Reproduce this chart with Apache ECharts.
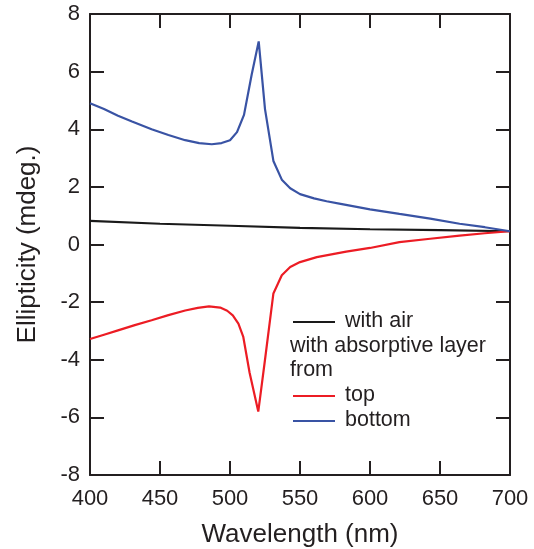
<!DOCTYPE html>
<html><head><meta charset="utf-8">
<script src="https://cdn.jsdelivr.net/npm/echarts@6/dist/echarts.min.js"></script>
<style>html,body{margin:0;padding:0;background:#fff}#c{width:534px;height:549px}</style>
</head><body><div id="c"></div>
<script>
const xTicks = [400, 450, 500, 550, 600, 650, 700];
const yTicks = [-8, -6, -4, -2, 0, 2, 4, 6, 8];

const airWl = [400, 450, 500, 550, 600, 650, 700];
const airVal = [0.82, 0.72, 0.65, 0.58, 0.53, 0.50, 0.46];

const bottomWl = [400, 410, 420, 430, 444, 456, 468, 478, 487, 494, 500, 505, 510, 515.5, 520.5, 525, 531, 537, 543, 550, 560, 569, 579, 600, 621, 643, 664, 682, 700];
const bottomVal = [4.90, 4.70, 4.47, 4.27, 4.00, 3.80, 3.62, 3.52, 3.48, 3.52, 3.62, 3.90, 4.50, 5.90, 7.05, 4.70, 2.90, 2.25, 1.95, 1.75, 1.60, 1.50, 1.41, 1.22, 1.06, 0.90, 0.72, 0.60, 0.46];

const topWl = [400, 410, 420, 432, 444, 456, 468, 477, 485, 493, 498, 502, 506, 509.5, 514, 520.2, 525, 531, 537, 543, 550, 562, 583, 600, 621, 643, 664, 682, 700];
const topVal = [-3.28, -3.13, -2.98, -2.80, -2.63, -2.45, -2.29, -2.20, -2.15, -2.19, -2.30, -2.46, -2.75, -3.21, -4.45, -5.80, -4.00, -1.70, -1.07, -0.78, -0.61, -0.44, -0.25, -0.12, 0.08, 0.20, 0.31, 0.39, 0.46];

const zip = (a, b) => a.map((x, i) => [x, b[i]]);
const FONT = '"Liberation Sans", Arial, sans-serif';
const AX = '#231f20';

const chart = echarts.init(document.getElementById('c'), null, {renderer: 'canvas'});
const tickCommon = {show: true, inside: true, length: 14, lineStyle: {color: AX, width: 2}};
const lineCommon = {show: true, onZero: false, lineStyle: {color: AX, width: 2}};
chart.setOption({
  animation: false,
  grid: {left: 90, right: 24, top: 14, bottom: 74, containLabel: false, outerBoundsMode: 'none'},
  xAxis: [{
    type: 'value', min: xTicks[0], max: xTicks[xTicks.length - 1], interval: 50,
    name: 'Wavelength (nm)', nameLocation: 'middle', nameGap: 47,
    nameTextStyle: {fontFamily: FONT, fontSize: 26, color: AX},
    axisLine: lineCommon,
    axisTick: tickCommon, splitLine: {show: false},
    axisLabel: {fontFamily: FONT, fontSize: 22, color: AX, margin: 13}
  }, {
    type: 'value', position: 'top', min: xTicks[0], max: xTicks[xTicks.length - 1], interval: 50,
    axisLine: lineCommon,
    axisTick: tickCommon, axisLabel: {show: false}, splitLine: {show: false}
  }],
  yAxis: [{
    type: 'value', min: yTicks[0], max: yTicks[yTicks.length - 1], interval: 2,
    name: 'Ellipticity (mdeg.)', nameLocation: 'middle', nameGap: 49, nameRotate: 90,
    nameTextStyle: {fontFamily: FONT, fontSize: 26, color: AX},
    axisLine: lineCommon,
    axisTick: tickCommon, splitLine: {show: false},
    axisLabel: {fontFamily: FONT, fontSize: 22, color: AX, margin: 10}
  }, {
    type: 'value', position: 'right', min: yTicks[0], max: yTicks[yTicks.length - 1], interval: 2,
    axisLine: lineCommon,
    axisTick: tickCommon, axisLabel: {show: false}, splitLine: {show: false}
  }],
  series: [
    {name: 'with air', type: 'line', data: zip(airWl, airVal), showSymbol: false, lineStyle: {color: '#1a1a1a', width: 2.2}},
    {name: 'top', type: 'line', data: zip(topWl, topVal), showSymbol: false, lineStyle: {color: '#ec1c24', width: 2.2}},
    {name: 'bottom', type: 'line', data: zip(bottomWl, bottomVal), showSymbol: false, lineStyle: {color: '#3953a4', width: 2.2}}
  ],
  graphic: [
    {type: 'line', shape: {x1: 293, y1: 322, x2: 335, y2: 322}, style: {stroke: '#1a1a1a', lineWidth: 2}},
    {type: 'text', left: 345, top: 310, style: {text: 'with air', font: '21.5px ' + FONT, fill: AX}},
    {type: 'text', left: 290, top: 335, style: {text: 'with absorptive layer', font: '21.5px ' + FONT, fill: AX}},
    {type: 'text', left: 290, top: 359, style: {text: 'from', font: '21.5px ' + FONT, fill: AX}},
    {type: 'line', shape: {x1: 293, y1: 396, x2: 335, y2: 396}, style: {stroke: '#ec1c24', lineWidth: 2}},
    {type: 'text', left: 345, top: 384, style: {text: 'top', font: '21.5px ' + FONT, fill: AX}},
    {type: 'line', shape: {x1: 293, y1: 421, x2: 335, y2: 421}, style: {stroke: '#3953a4', lineWidth: 2}},
    {type: 'text', left: 345, top: 409, style: {text: 'bottom', font: '21.5px ' + FONT, fill: AX}}
  ]
});
</script></body></html>
